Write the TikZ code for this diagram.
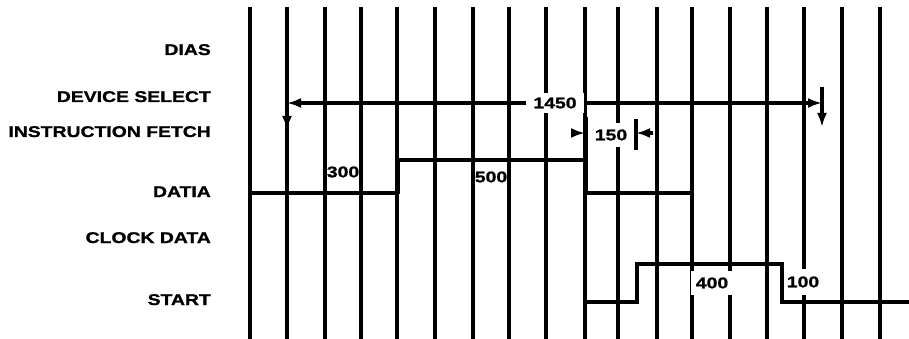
\documentclass[tikz,border=0pt]{standalone}
\usepackage{fontspec}
\newfontfamily\sigfont{Liberation Sans}[FakeStretch=1.25, FakeBold=1.2]
\usepackage{tikz}
\usetikzlibrary{arrows.meta}

\begin{document}
\begin{tikzpicture}[x=1pt, y=-1pt, line cap=butt]
		\tikzstyle{gridline}=[line width=3.1pt, color=black]
		\tikzstyle{wave}=[line width=3.3pt, color=black, line join=miter]
		\tikzstyle{boldedge}=[line width=5pt, color=black]
		\tikzstyle{dimline}=[line width=3.3pt, color=black]
		\tikzstyle{siglabel}=[anchor=base east, inner sep=0pt, font={\sigfont\bfseries\fontsize{15.5}{18}\selectfont}]
		\tikzstyle{numlabel}=[inner sep=0pt, font={\sigfont\bfseries\fontsize{15.5}{18}\selectfont}]
		\tikzset{>={Latex[length=14pt,width=10pt]}}
		\useasboundingbox (0,0) rectangle (909,339);

		% signal names
		\node[siglabel] (dias) at (211,55) {DIAS};
		\node[siglabel] (devsel) at (211,102) {DEVICE SELECT};
		\node[siglabel] (insfetch) at (211,137) {INSTRUCTION FETCH};
		\node[siglabel] (datia) at (211,197) {DATIA};
		\node[siglabel] (clkdata) at (211,243) {CLOCK DATA};
		\node[siglabel] (start) at (211,305) {START};

		% time grid
		\foreach \x in {250,287,325,361,397,435,473,509,546,585,618,657,692,730,767,804,842,880}
			\draw[gridline] (\x,7) -- (\x,339);

		% times
		\node[numlabel] (t300) at (343,172) {300};
		\node[numlabel] (t500) at (491,177) {500};
		\node[numlabel, fill=white, inner xsep=7pt, inner ysep=5pt] (t1450) at (555,103) {1450};
		\node[numlabel, fill=white, inner xsep=2pt, inner ysep=7pt] (t150) at (611,135) {150};
		\node[numlabel, fill=white, inner xsep=5pt, inner ysep=7pt] (t400) at (712,283) {400};
		\node[numlabel, fill=white, inner xsep=2pt, inner ysep=8pt] (t100) at (803,282) {100};

		% DATIA
		\draw[wave] (250,193) -- (397,193) -- (397,160) -- (585,160) -- (585,193) -- (692,193);
		\draw[boldedge] (397,194) -- (397,159);
		\draw[boldedge] (585,117) -- (585,194);
		% START
		\draw[wave] (585,302) -- (637,302) -- (637,264) -- (782,264) -- (782,302) -- (909,302);

		% 1450
		\coordinate (d1450l) at (287,103);
		\coordinate (d1450r) at (822,103);
		\draw[dimline,->] (t1450.west) -- (d1450l);
		\draw[dimline,->] (t1450.east) -- (d1450r);
		\draw[dimline,->] (287,86) -- (287,130);
		\draw[dimline,->] (822,87) -- (822,127);
		% 150
		\coordinate (d150l) at (585,133);
		\coordinate (d150r) at (636,133);
		\draw[dimline] (636,119) -- (636,150);
		\draw[dimline,->] ([xshift=-14pt]d150l) -- (d150l);
		\draw[dimline,->] ([xshift=17pt]d150r) -- (d150r);
	\end{tikzpicture}
\end{document}
